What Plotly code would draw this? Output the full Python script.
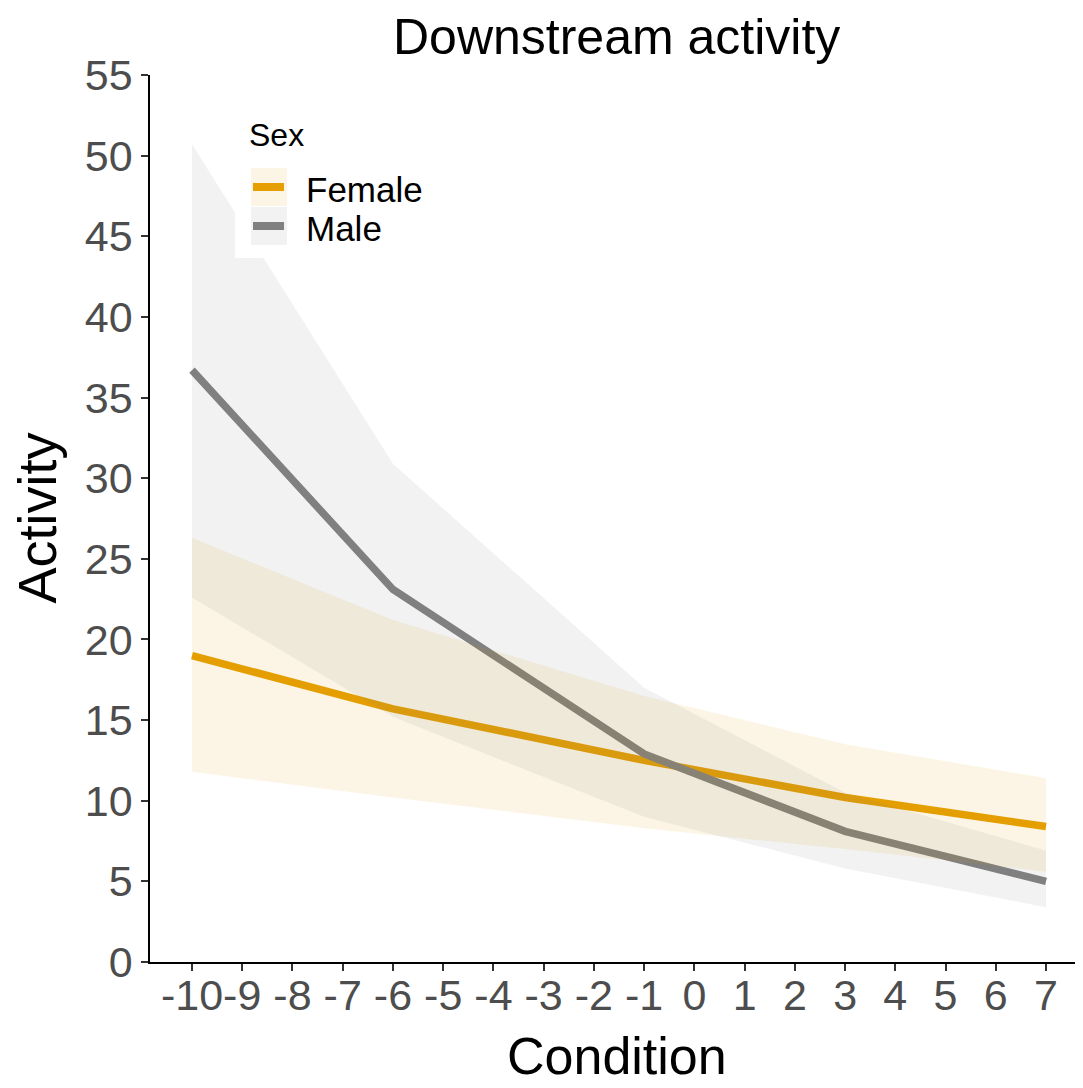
import plotly.graph_objects as go

# ---- data ----
condition = [-10, -6, -1, 3, 7]
female_fit = [19.0, 15.7, 12.5, 10.2, 8.4]
female_lower = [11.8, 10.2, 8.3, 7.0, 5.6]
female_upper = [26.3, 21.2, 16.5, 13.5, 11.4]
male_fit = [36.7, 23.1, 12.9, 8.1, 5.0]
male_lower = [22.6, 15.2, 9.0, 5.8, 3.4]
male_upper = [50.7, 30.9, 17.0, 10.5, 6.9]
sexes = ["Female", "Male"]
x_ticks = list(range(-10, 8))
y_ticks = list(range(0, 56, 5))

FONT = "Liberation Sans, Arial, sans-serif"
ORANGE = "#E69F00"
GREY = "#808080"
ORANGE_FILL = "rgba(230,159,0,0.1)"
GREY_FILL = "rgba(128,128,128,0.1)"

# page is drawn with an 8px body offset; plot area on screen: x 150..1083, y 75..962
PX0, PX1, PY0, PY1 = 150, 1083, 75, 962
def px(sx):
    return (sx - PX0) / (PX1 - PX0)
def py(sy):
    return (PY1 - sy) / (PY1 - PY0)

fig = go.Figure()

# lines first (ribbons are drawn on top, as in the reference)
fig.add_trace(go.Scatter(x=condition, y=female_fit, mode="lines", name=sexes[0],
                         line=dict(color=ORANGE, width=7.5)))
fig.add_trace(go.Scatter(x=condition, y=male_fit, mode="lines", name=sexes[1],
                         line=dict(color=GREY, width=7.5)))

def ribbon(lower, upper, rgba):
    xs = condition + condition[::-1]
    ys = upper + lower[::-1]
    return go.Scatter(x=xs, y=ys, mode="lines", fill="toself", fillcolor=rgba,
                      line=dict(width=0, color="rgba(0,0,0,0)"), showlegend=False,
                      hoverinfo="skip")

fig.add_trace(ribbon(female_lower, female_upper, ORANGE_FILL))
fig.add_trace(ribbon(male_lower, male_upper, GREY_FILL))

# ---- legend (ggplot style: key boxes with ribbon fill and line) ----
shapes = [
    dict(type="rect", xref="paper", yref="paper", x0=px(235), x1=px(440),
         y0=py(105), y1=py(258), fillcolor="white", line=dict(width=0), layer="above"),
]
key_rows = [(168, 206, ORANGE_FILL, ORANGE), (207, 245, GREY_FILL, GREY)]
for top, bot, fillc, linec in key_rows:
    shapes.append(dict(type="rect", xref="paper", yref="paper", x0=px(251), x1=px(287),
                       y0=py(bot), y1=py(top), fillcolor=fillc, line=dict(width=0),
                       layer="above"))
    mid = (top + bot) / 2
    shapes.append(dict(type="line", xref="paper", yref="paper", x0=px(253), x1=px(284),
                       y0=py(mid), y1=py(mid), line=dict(color=linec, width=8),
                       layer="above"))

annotations = [
    dict(text="Downstream activity", xref="paper", yref="paper", x=0.5,
         y=py(37), xanchor="center", yanchor="middle", showarrow=False,
         font=dict(size=50, color="black", family=FONT)),
    dict(text="Condition", xref="paper", yref="paper", x=0.5,
         y=py(1056), xanchor="center", yanchor="middle", showarrow=False,
         font=dict(size=52, color="black", family=FONT)),
    dict(text="Activity", xref="paper", yref="paper", x=px(36),
         y=0.5, xanchor="center", yanchor="middle", showarrow=False, textangle=-90,
         font=dict(size=54, color="black", family=FONT)),
    dict(text="Sex", xref="paper", yref="paper", x=px(247), y=py(135),
         xanchor="left", yanchor="middle", showarrow=False,
         font=dict(size=32, color="black", family=FONT)),
    dict(text=sexes[0], xref="paper", yref="paper", x=px(304), y=py(189),
         xanchor="left", yanchor="middle", showarrow=False,
         font=dict(size=35, color="black", family=FONT)),
    dict(text=sexes[1], xref="paper", yref="paper", x=px(304), y=py(228),
         xanchor="left", yanchor="middle", showarrow=False,
         font=dict(size=35, color="black", family=FONT)),
]

fig.update_layout(
    width=1075, height=1080,
    margin=dict(l=142, r=0, t=67, b=126, autoexpand=False),
    paper_bgcolor="white", plot_bgcolor="white",
    font=dict(family=FONT, color="black"),
    showlegend=False,
    xaxis=dict(
        range=[-10.836, 7.736], tickmode="array", tickvals=x_ticks,
        ticktext=[str(v) for v in x_ticks], tickangle=0, automargin=False,
        showgrid=False, zeroline=False, showline=True, linecolor="black", linewidth=1.5,
        ticks="outside", ticklen=7, tickwidth=1.5, tickcolor="#333333",
        ticklabelstandoff=-12,
        tickfont=dict(size=43, color="#4D4D4D", family=FONT),
    ),
    yaxis=dict(
        range=[0, 55], tickmode="array", tickvals=y_ticks, automargin=False,
        showgrid=False, zeroline=False, showline=True, linecolor="black", linewidth=1.5,
        ticks="outside", ticklen=7, tickwidth=1.5, tickcolor="#333333",
        tickfont=dict(size=43, color="#4D4D4D", family=FONT),
    ),
    shapes=shapes,
    annotations=annotations,
)

fig.write_html("out.html")
